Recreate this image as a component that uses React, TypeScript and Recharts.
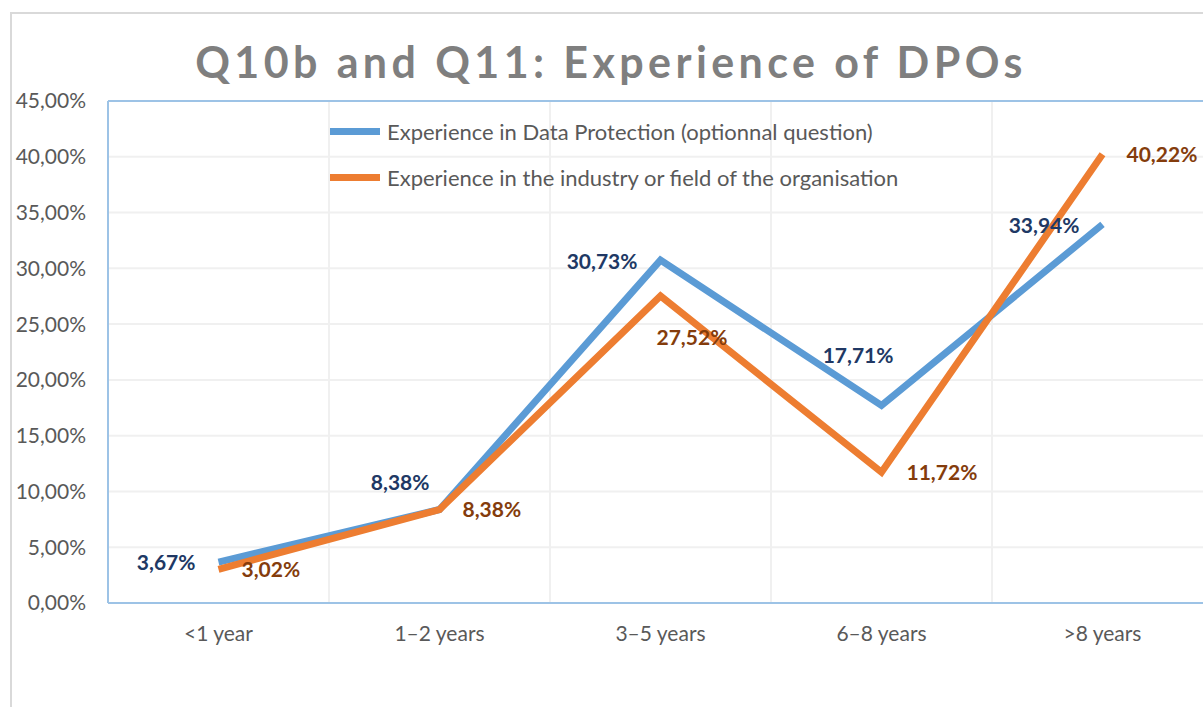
import React from "react";
import {
  LineChart,
  Line,
  XAxis,
  YAxis,
  CartesianGrid,
  Legend,
  LabelList,
  ReferenceLine,
} from "recharts";

const categories = ["<1 year", "1–2 years", "3–5 years", "6–8 years", ">8 years"];
const dataProtection = [3.67, 8.38, 30.73, 17.71, 33.94];
const industryField = [3.02, 8.38, 27.52, 11.72, 40.22];
const yTicks = [0, 5, 10, 15, 20, 25, 30, 35, 40, 45];

const seriesNames = {
  dp: "Experience in Data Protection (optionnal question)",
  ind: "Experience in the industry or field of the organisation",
};

const data = categories.map((cat, i) => ({
  cat,
  dp: dataProtection[i],
  ind: industryField[i],
}));

const FONT = "Lato, 'Open Sans', sans-serif";
const BLUE = "#5b9bd5";
const ORANGE = "#ed7d31";
const AXIS = "#9dc3e6";

const fmt = (v: number) => v.toFixed(2).replace(".", ",") + "%";

// label placement relative to the point: [dx, dy, anchor]
const blueLabelPos: [number, number, string][] = [
  [-23, -1, "end"],
  [-10, -28, "end"],
  [-23, 0, "end"],
  [12, -51, "end"],
  [-23, 0, "end"],
];
const orangeLabelPos: [number, number, string][] = [
  [23, -1, "start"],
  [23, -1, "start"],
  [-4, 41, "start"],
  [25, -1, "start"],
  [24, -1, "start"],
];

const makeLabel = (pos: [number, number, string][], color: string) => (props: any) => {
  const { x, y, value, index } = props;
  const [dx, dy, anchor] = pos[index];
  return (
    <text
      x={x + dx}
      y={y + dy}
      textAnchor={anchor}
      dominantBaseline="central"
      fill={color}
      fontFamily={FONT}
      fontWeight={700}
      fontSize={21}
    >
      {fmt(value)}
    </text>
  );
};

const LegendBox = () => (
  <div style={{ fontFamily: FONT, fontSize: 22, color: "#595959" }}>
    {[
      { name: seriesNames.dp, color: BLUE },
      { name: seriesNames.ind, color: ORANGE },
    ].map((it) => (
      <div
        key={it.name}
        style={{ display: "flex", alignItems: "center", height: 46 }}
      >
        <div style={{ width: 50, height: 7, background: it.color, marginRight: 7 }} />
        <span>{it.name}</span>
      </div>
    ))}
  </div>
);

export default function App() {
  return (
    <div
      style={{
        position: "fixed",
        left: 0,
        top: 0,
        width: 1203,
        height: 707,
        overflow: "hidden",
        background: "#fff",
      }}
    >
      <div
        style={{
          position: "absolute",
          left: 10,
          top: 12,
          width: 1400,
          height: 900,
          border: "2px solid #d9d9d9",
        }}
      />
      <div
        style={{
          position: "absolute",
          left: 0,
          width: 1222,
          top: 34,
          textAlign: "center",
          fontFamily: FONT,
          fontWeight: 700,
          fontSize: 43,
          letterSpacing: 4.4,
          color: "#7f7f7f",
          lineHeight: "56px",
        }}
      >
        Q10b and Q11: Experience of DPOs
      </div>
      <div style={{ position: "absolute", left: 0, top: 0 }}>
        <LineChart
          width={1223}
          height={663}
          data={data}
          margin={{ top: 101, right: 10, bottom: 0, left: 0 }}
        >
          <CartesianGrid
            stroke="#f0f0f0"
            strokeWidth={2}
            verticalCoordinatesGenerator={({ offset }: any) =>
              [1, 2, 3, 4].map((i) => offset.left + (i * offset.width) / categories.length)
            }
          />
          <XAxis
            dataKey="cat"
            scale="band"
            axisLine={{ stroke: AXIS, strokeWidth: 2 }}
            tickLine={false}
            tickMargin={17}
            height={60}
            tick={{ fill: "#595959", fontSize: 21, fontFamily: FONT }}
          />
          <YAxis
            width={108}
            domain={[0, 45]}
            ticks={yTicks}
            interval={0}
            tickFormatter={fmt}
            axisLine={{ stroke: AXIS, strokeWidth: 2 }}
            tickLine={false}
            tickMargin={16}
            tick={{ fill: "#595959", fontSize: 21, fontFamily: FONT }}
          />
          <ReferenceLine y={45} stroke={AXIS} strokeWidth={2} />
          <Legend
            layout="horizontal"
            verticalAlign="middle"
            align="center"
            content={<LegendBox />}
            wrapperStyle={{ position: "absolute", left: 330, top: 108, width: 700 }}
          />
          <Line
            dataKey="dp"
            name={seriesNames.dp}
            stroke={BLUE}
            strokeWidth={7}
            dot={false}
            activeDot={false}
            isAnimationActive={false}
          >
            <LabelList dataKey="dp" content={makeLabel(blueLabelPos, "#203864")} />
          </Line>
          <Line
            dataKey="ind"
            name={seriesNames.ind}
            stroke={ORANGE}
            strokeWidth={7}
            dot={false}
            activeDot={false}
            isAnimationActive={false}
          >
            <LabelList dataKey="ind" content={makeLabel(orangeLabelPos, "#843c0c")} />
          </Line>
        </LineChart>
      </div>
    </div>
  );
}
